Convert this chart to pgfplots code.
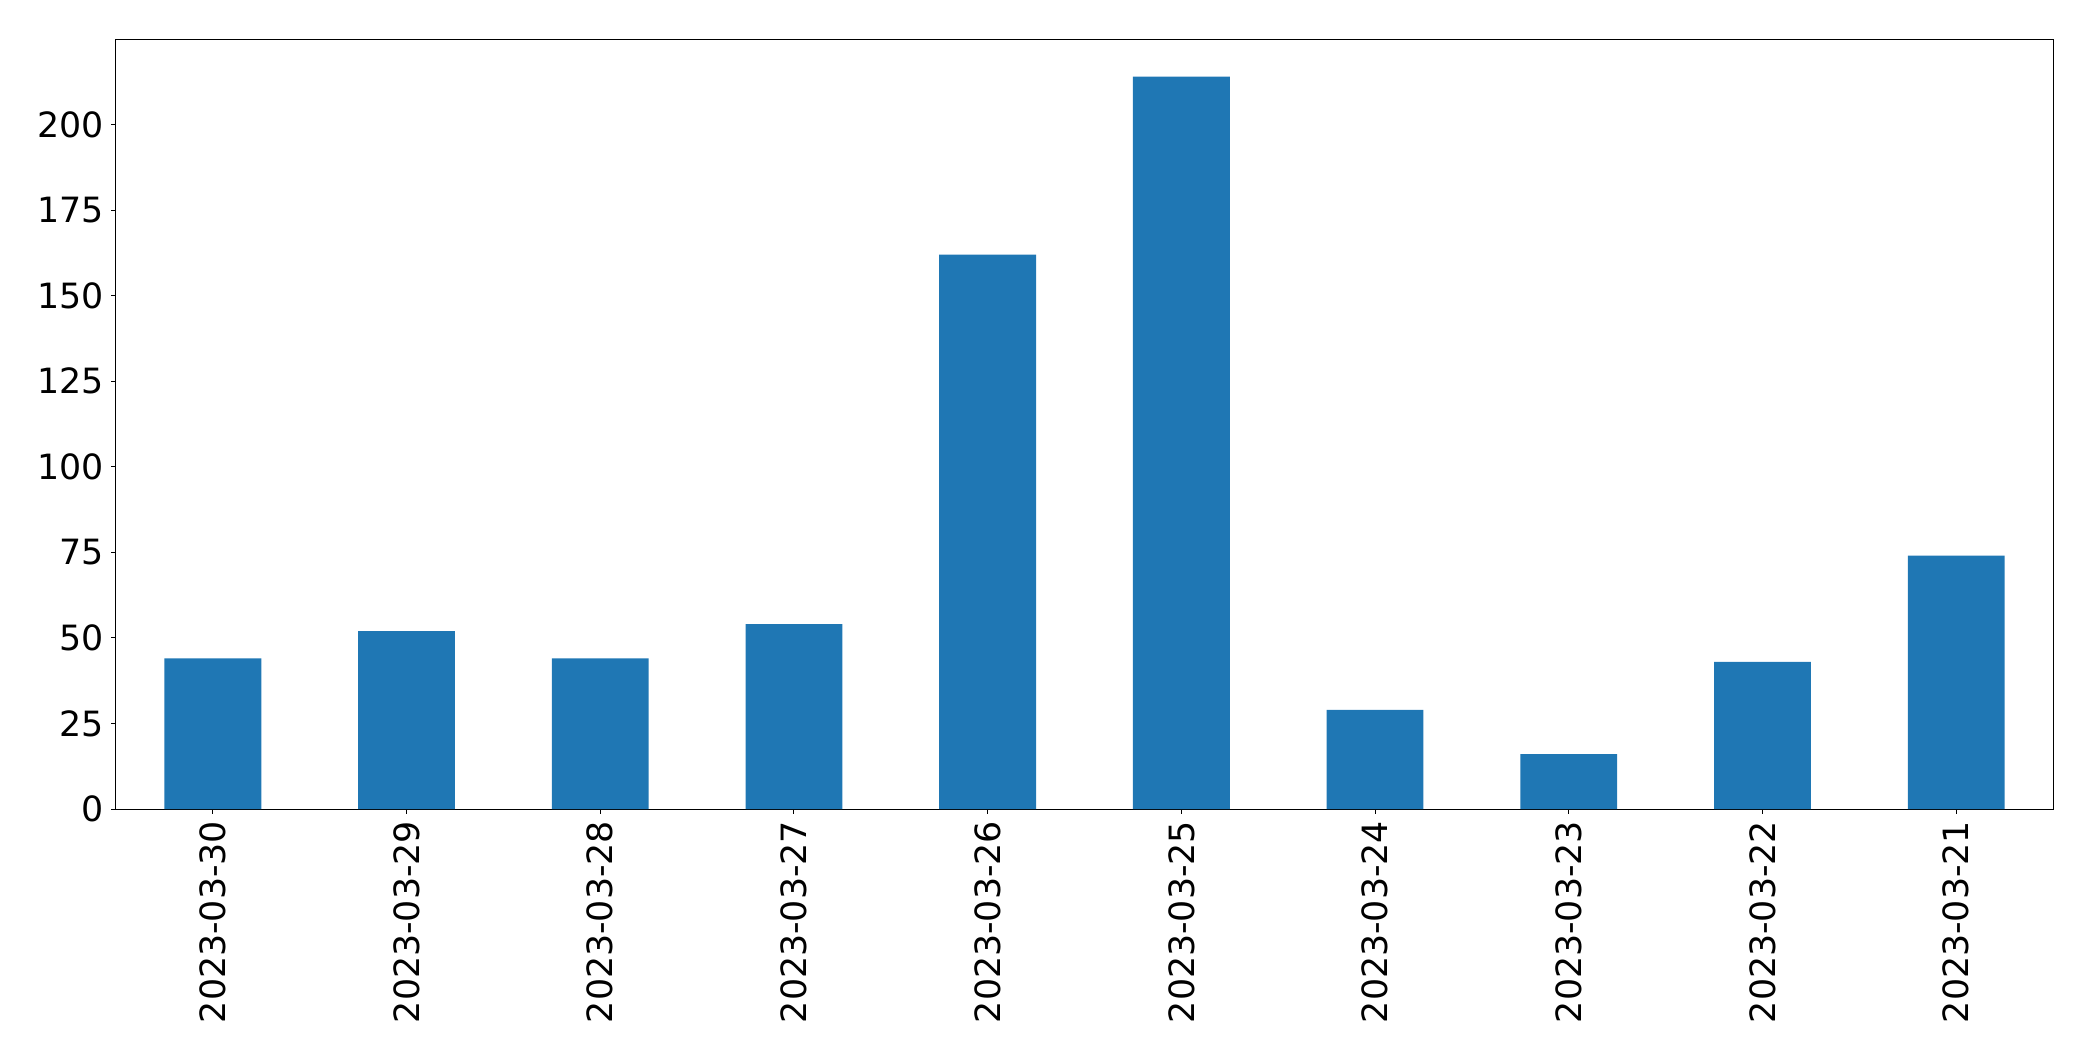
\documentclass[border=0pt]{standalone}
\usepackage{pgfplots}
\pgfplotsset{compat=1.18}
\usepackage{fontspec}
\setmainfont{DejaVu Sans}
\definecolor{mplblue}{HTML}{1F77B4}
\begin{document}
\begin{tikzpicture}
\path[use as bounding box] (0,0) rectangle (1046.5pt,530.5pt);
\begin{axis}[
  at={(58pt,126pt)}, anchor=south west,
  scale only axis, width=968.5pt, height=384.5pt,
  xmin=-0.5, xmax=9.5, ymin=0, ymax=224.7,
  xtick={0,...,9},
  xticklabels={2023-03-30,2023-03-29,2023-03-28,2023-03-27,2023-03-26,2023-03-25,2023-03-24,2023-03-23,2023-03-22,2023-03-21},
  ytick={0,25,...,200},
  x tick label style={rotate=90, anchor=east},
  tick label style={font=\fontsize{17.4}{20}\selectfont},
  /pgf/number format/assume math mode=true,
  tick align=outside, tick pos=left,
  major tick length=2.4pt,
  every tick/.style={black, line width=0.5pt},
  axis line style={line width=0.5pt},
  ybar, bar width=0.5,
]
\addplot[fill=mplblue, draw=none] coordinates {
(0,44) (1,52) (2,44) (3,54) (4,162) (5,214) (6,29) (7,16) (8,43) (9,74)
};
\end{axis}
\end{tikzpicture}
\end{document}
